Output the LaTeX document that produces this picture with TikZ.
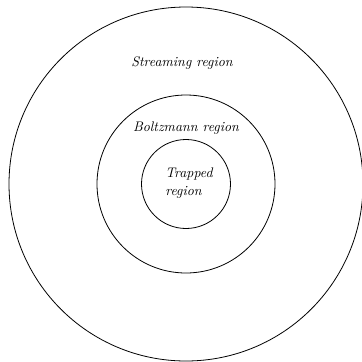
\documentclass[tikz,border=0pt]{standalone}
\begin{document}
\begin{tikzpicture}[x=0.75pt,y=-0.75pt,
  ring/.style={draw,circle,line width=0.6pt,inner sep=0pt},
  lbl/.style={font=\fontsize{10.4}{13.5}\selectfont\itshape,inner sep=0pt}]
\useasboundingbox (0,0) rectangle (362,362);
\node[ring,minimum size=354*0.75pt] (outer) at (186,184) {};
\node[ring,minimum size=178*0.75pt] (middle) at (186,184) {};
\node[ring,minimum size=89*0.75pt] (inner) at (186,184) {};
\node[lbl] (s) at (182,63) {Streaming region};
\node[lbl] (b) at (186,128) {Boltzmann region};
\node[lbl,align=left] (t) at (189,183) {Trapped\\region};
\end{tikzpicture}
\end{document}
